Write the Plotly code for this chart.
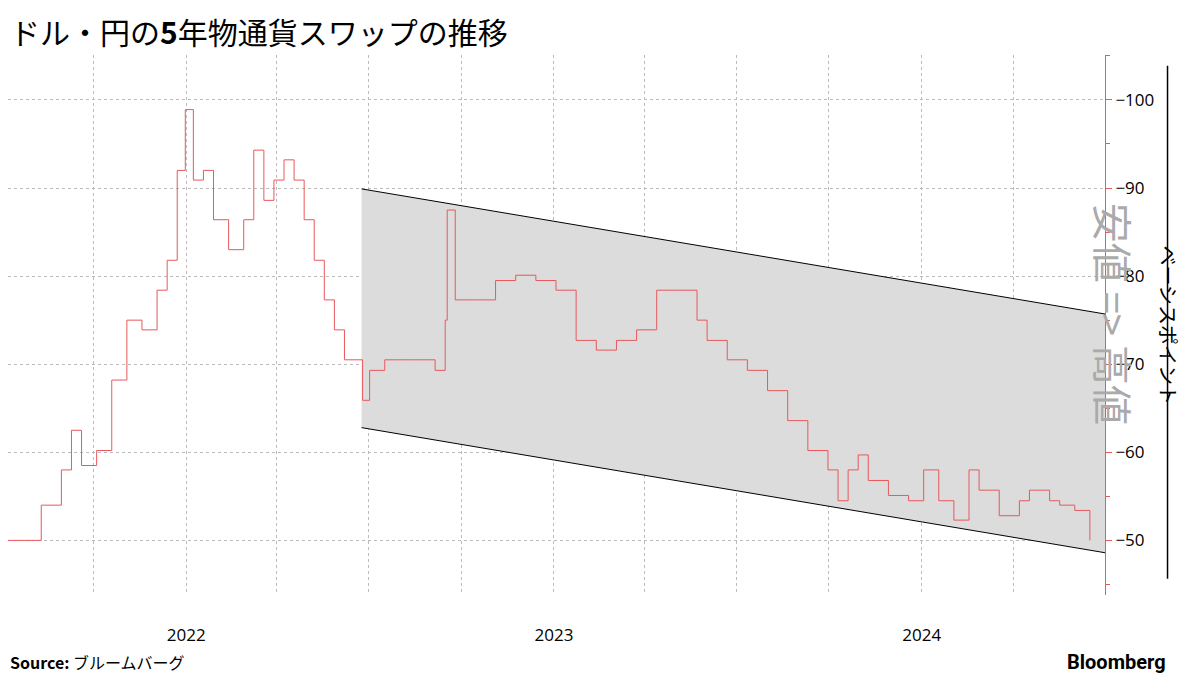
import plotly.graph_objects as go

# 5-year USD/JPY cross-currency basis swap
dates = ['2021-07-01', '2021-07-21', '2021-08-10', '2021-08-30', '2021-09-09', '2021-09-19',
         '2021-10-04', '2021-10-19', '2021-11-03', '2021-11-18', '2021-12-03', '2021-12-13',
         '2021-12-23', '2021-12-31', '2022-01-08', '2022-01-18', '2022-01-28', '2022-02-12',
         '2022-02-27', '2022-03-09', '2022-03-19', '2022-03-29', '2022-04-08', '2022-04-18',
         '2022-04-28', '2022-05-08', '2022-05-18', '2022-05-28', '2022-06-07', '2022-06-17',
         '2022-06-25', '2022-07-02', '2022-07-17', '2022-08-01', '2022-08-16', '2022-09-05',
         '2022-09-15', '2022-09-17', '2022-09-25', '2022-10-15', '2022-11-04', '2022-11-24',
         '2022-12-14', '2023-01-03', '2023-01-23', '2023-02-12', '2023-03-04', '2023-03-24',
         '2023-04-13', '2023-05-03', '2023-05-23', '2023-06-02', '2023-06-22', '2023-07-12',
         '2023-08-01', '2023-08-21', '2023-09-10', '2023-09-30', '2023-10-10', '2023-10-20',
         '2023-10-30', '2023-11-09', '2023-11-29', '2023-12-19', '2024-01-03', '2024-01-18',
         '2024-02-02', '2024-02-17', '2024-02-27', '2024-03-18', '2024-04-07', '2024-04-17',
         '2024-05-07', '2024-05-17', '2024-06-01', '2024-06-16']
basis = [-50, -50, -54, -58, -62.5, -58.5,
         -60.2, -68.2, -75, -73.9, -78.4, -81.8,
         -92, -98.9, -90.9, -92, -86.4, -83,
         -86.4, -94.3, -88.6, -90.9, -93.2, -90.9,
         -86.4, -81.8, -77.3, -73.9, -70.5, -70.5,
         -65.9, -69.3, -70.5, -70.5, -70.5, -69.3,
         -75, -87.5, -77.3, -77.3, -79.5, -80.1,
         -79.5, -78.4, -72.7, -71.6, -72.7, -73.9,
         -78.4, -78.4, -75, -72.7, -70.5, -69.3,
         -67, -63.6, -60.2, -58, -54.5, -58,
         -59.7, -56.8, -55.1, -54.5, -58, -54.5,
         -52.3, -58, -55.7, -52.8, -54.5, -55.7,
         -54.5, -54, -53.4, -50]

# trend channel
chan_dates = ['2022-06-24', '2024-07-01']
chan_upper = [-89.9, -75.7]
chan_lower = [-62.8, -48.6]

quarters = ['2021-10-01', '2022-01-01', '2022-04-01', '2022-07-01', '2022-10-01', '2023-01-01',
            '2023-04-01', '2023-07-01', '2023-10-01', '2024-01-01', '2024-04-01']
quarter_text = ['', '2022', '', '', '', '2023', '', '', '', '2024', '']

jp = 'Noto Sans CJK JP'
red = '#e8585c'

fig = go.Figure()
fig.add_trace(go.Scatter(x=chan_dates, y=chan_lower, mode='lines',
                         line=dict(color='black', width=1), showlegend=False))
fig.add_trace(go.Scatter(x=chan_dates, y=chan_upper, mode='lines', fill='tonexty',
                         fillcolor='#dcdcdc', line=dict(color='black', width=1), showlegend=False))
fig.add_trace(go.Scatter(x=dates, y=basis, mode='lines', line_shape='hv',
                         line=dict(color=red, width=1), showlegend=False))

# page body has an 8px margin, so the figure is a bit smaller than the window
fig.update_layout(
    width=1192, height=667, plot_bgcolor='white', paper_bgcolor='white',
    margin=dict(l=0, r=95, t=47, b=80),
    font=dict(family=jp, color='black'),
    xaxis=dict(range=['2021-07-08', '2024-07-01'], tickvals=quarters, ticktext=quarter_text,
               showgrid=True, gridcolor='#bbbbbb', griddash='dot', ticks='',
               tickfont=dict(size=17, family='Open Sans'), ticklabelstandoff=28,
               showline=False, zeroline=False, automargin=False),
    yaxis=dict(side='right', range=[-43.8, -105.1], tickvals=[-100, -90, -80, -70, -60, -50],
               showgrid=True, gridcolor='#bbbbbb', griddash='dot', zeroline=False,
               showline=True, linecolor=red, ticks='outside', tickcolor=red, ticklen=6,
               minor=dict(dtick=5, ticks='outside', ticklen=4, tickcolor=red),
               tickfont=dict(size=17, family='Open Sans'), automargin=False),
)

fig.add_shape(type='line', xref='paper', yref='paper', x0=1.057, x1=1.057, y0=0.03, y1=0.98,
              line=dict(color='black', width=1.5))
fig.add_annotation(text='ベーシスポイント', textangle=90, xref='paper', yref='paper',
                   x=1.073, y=0.5, showarrow=False, font=dict(size=20))
fig.add_annotation(text='安値 => 高値', textangle=90, xref='paper', yref='paper',
                   x=1.036, y=0.52, showarrow=False, font=dict(size=40, color='#aaaaaa'))
fig.add_annotation(text='ドル・円の<b>5</b>年物通貨スワップの推移', xref='paper', yref='paper',
                   x=0.0, xanchor='left', y=1.045, yanchor='middle', showarrow=False,
                   font=dict(size=30, family=jp))
fig.add_annotation(text='<b>Source:</b> ブルームバーグ', xref='paper', yref='paper',
                   x=0.0, xanchor='left', y=-0.124, yanchor='middle', showarrow=False,
                   font=dict(size=16))
fig.add_annotation(text='<b>Bloomberg</b>', xref='paper', yref='paper',
                   x=1.057, xanchor='right', y=-0.124, yanchor='middle', showarrow=False,
                   font=dict(size=20, family='Roboto'))

fig.write_html('out.html')
